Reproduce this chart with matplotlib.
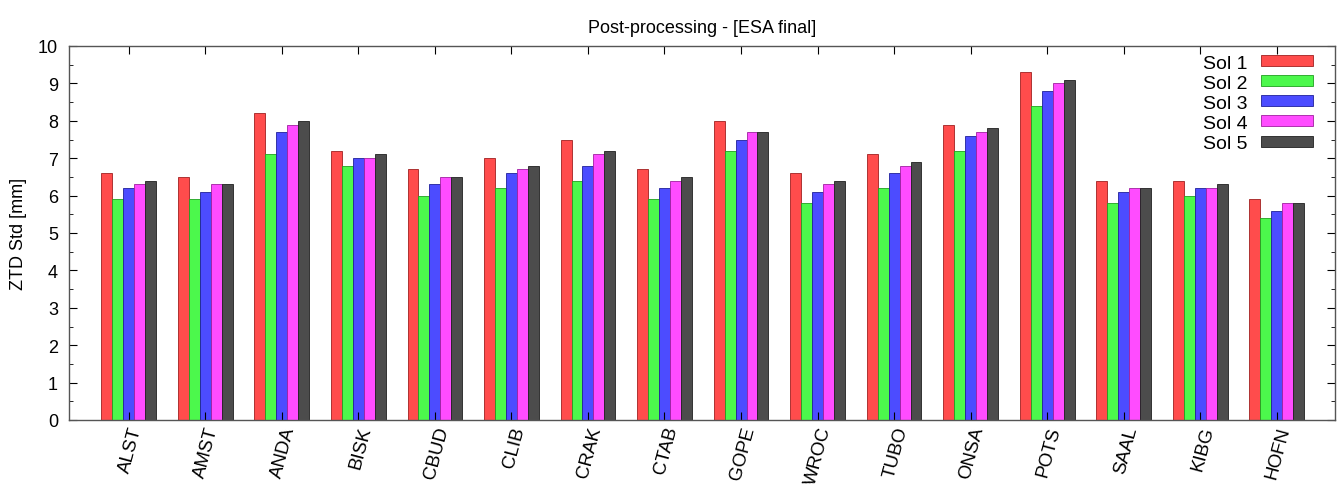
import matplotlib
matplotlib.use("Agg")
import matplotlib.pyplot as plt
import numpy as np
from matplotlib.ticker import MultipleLocator

plt.rcParams['font.family'] = ['Liberation Sans', 'DejaVu Sans']

stations = ["ALST", "AMST", "ANDA", "BISK", "CBUD", "CLIB", "CRAK", "CTAB",
            "GOPE", "WROC", "TUBO", "ONSA", "POTS", "SAAL", "KIBG", "HOFN"]
sol1 = [6.6, 6.5, 8.2, 7.2, 6.7, 7.0, 7.5, 6.7, 8.0, 6.6, 7.1, 7.9, 9.3, 6.4, 6.4, 5.9]
sol2 = [5.9, 5.9, 7.1, 6.8, 6.0, 6.2, 6.4, 5.9, 7.2, 5.8, 6.2, 7.2, 8.4, 5.8, 6.0, 5.4]
sol3 = [6.2, 6.1, 7.7, 7.0, 6.3, 6.6, 6.8, 6.2, 7.5, 6.1, 6.6, 7.6, 8.8, 6.1, 6.2, 5.6]
sol4 = [6.3, 6.3, 7.9, 7.0, 6.5, 6.7, 7.1, 6.4, 7.7, 6.3, 6.8, 7.7, 9.0, 6.2, 6.2, 5.8]
sol5 = [6.4, 6.3, 8.0, 7.1, 6.5, 6.8, 7.2, 6.5, 7.7, 6.4, 6.9, 7.8, 9.1, 6.2, 6.3, 5.8]
series = [("Sol 1", sol1), ("Sol 2", sol2), ("Sol 3", sol3), ("Sol 4", sol4), ("Sol 5", sol5)]
colors = ["#ff4c4c", "#4cf84c", "#4c4cff", "#ff4cff", "#4c4c4c"]
edges = ["#a02020", "#20a020", "#20209a", "#a020a0", "#202020"]

fig = plt.figure(figsize=(13.4, 4.85), dpi=100)
ax = fig.add_axes([69/1340, 1-421/485, (1335-69)/1340, (421-47)/485])

x = np.arange(len(stations))
w = 1/7
for i, (name, vals) in enumerate(series):
    ax.bar(x + (i-2)*w, vals, width=w, color=colors[i], edgecolor=edges[i],
           linewidth=0.6, label=name)

ax.set_xlim(-0.78, 15.76)
ax.set_ylim(0, 10)
ax.yaxis.set_major_locator(MultipleLocator(1))
ax.yaxis.set_minor_locator(MultipleLocator(0.5))
ax.set_xticks(x)
ax.set_xticklabels(stations, rotation=75, ha='right', va='top',
                   rotation_mode='anchor', fontsize=13.5)
ax.tick_params(axis='both', which='both', direction='in', top=True, right=True)
ax.tick_params(axis='y', which='major', length=6, labelsize=13, pad=8)
ax.tick_params(axis='y', which='minor', length=3)
ax.tick_params(axis='x', which='major', length=6, pad=3)
for s in ax.spines.values():
    s.set_color("#555555")
    s.set_linewidth(1.0)

ax.set_ylabel("ZTD Std [mm]", fontsize=13, labelpad=8)
ax.set_title("Post-processing - [ESA final]", fontsize=13, pad=10)

leg = ax.legend(loc='upper right', bbox_to_anchor=(0.989, 0.998), markerfirst=False,
                frameon=False, fontsize=14, handlelength=2.68, handleheight=0.5,
                labelspacing=0.16, handletextpad=0.72, borderaxespad=0.0)

fig.savefig("out.png", dpi=100)
